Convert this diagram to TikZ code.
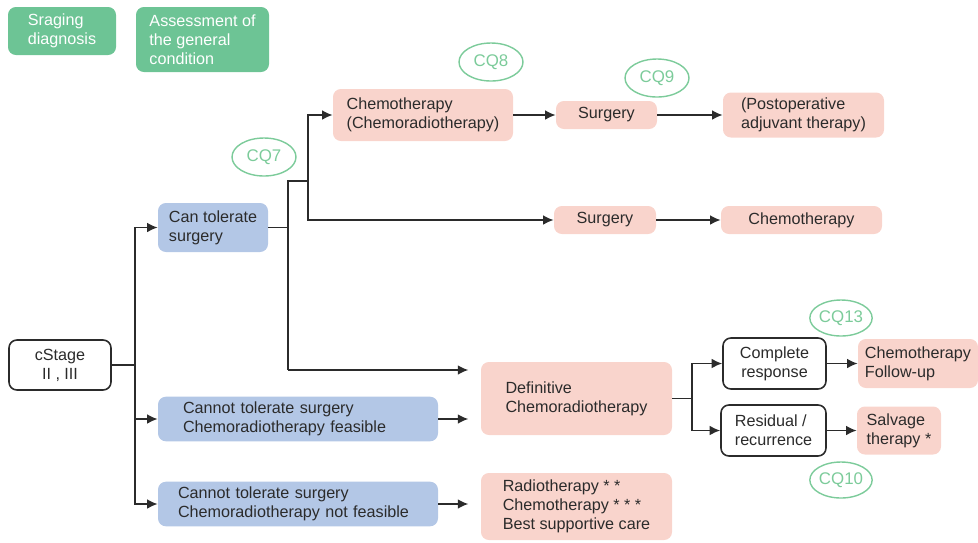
\documentclass[tikz,border=0pt]{standalone}
\usepackage{fontspec}
\setmainfont{Liberation Sans}
\usetikzlibrary{arrows.meta,positioning,shapes.geometric,calc}
\definecolor{CQGreen}{HTML}{7CCB9A}
\definecolor{BoxGreen}{HTML}{6DC495}
\definecolor{BoxPink}{HTML}{F9D4CC}
\definecolor{BoxBlue}{HTML}{B3C7E6}
\definecolor{LineDark}{HTML}{2B2B2B}

\begin{document}
\begin{tikzpicture}[
  box/.style={rectangle,rounded corners=4.5pt,align=left,inner sep=3pt,
              font=\fontsize{9.2}{10.8}\selectfont,text=LineDark},
  greenbox/.style={box,fill=BoxGreen,text=white},
  pinkbox/.style={box,fill=BoxPink},
  bluebox/.style={box,fill=BoxBlue},
  outbox/.style={box,draw=LineDark,line width=0.9pt,fill=white},
  cq/.style={ellipse,draw=CQGreen,line width=0.8pt,text=CQGreen,
             minimum width=1.28cm,minimum height=0.76cm,inner sep=0pt,
             font=\fontsize{9.6}{11}\selectfont},
  arrow/.style={-{Latex[length=6pt,width=5.5pt]},LineDark,line width=0.85pt},
  link/.style={LineDark,line width=0.85pt}
]
  \useasboundingbox (0,0) rectangle (19.56,-10.84);

  % header boxes
  \node[greenbox,minimum width=2.16cm,minimum height=0.96cm] (stag) at (1.24,-0.62) {
    Sraging\\diagnosis
  };
  \node[greenbox,minimum width=2.66cm,minimum height=1.30cm] (assess) at (4.05,-0.79) {
    Assessment of\\the general\\condition
  };

  % left column
  \node[outbox,align=center,minimum width=2.04cm,minimum height=1.0cm] (cstage) at (1.20,-7.30) {
    cStage\\II , III
  };
  \node[bluebox,minimum width=2.2cm,minimum height=0.98cm] (tol) at (4.26,-4.55) {
    Can tolerate\\surgery
  };
  \node[bluebox,text width=4.6cm,inner xsep=0.5cm,minimum height=0.88cm] (feas) at (5.96,-8.38) {
    Cannot tolerate surgery\\Chemoradiotherapy feasible
  };
  \node[bluebox,text width=4.8cm,inner xsep=0.4cm,minimum height=0.88cm] (nofeas) at (5.96,-10.08) {
    Cannot tolerate surgery\\Chemoradiotherapy not feasible
  };

  % surgery branch
  \node[pinkbox,minimum width=3.6cm,minimum height=1.04cm] (chemoA) at (8.46,-2.30) {
    Chemotherapy\\(Chemoradiotherapy)
  };
  \node[pinkbox,minimum width=2.02cm,minimum height=0.56cm] (surgA) at (12.13,-2.30) {Surgery};
  \node[pinkbox,minimum width=3.22cm,minimum height=0.90cm] (postop) at (16.07,-2.30) {
    (Postoperative\\adjuvant therapy)
  };
  \node[pinkbox,minimum width=2.04cm,minimum height=0.56cm] (surgB) at (12.10,-4.40) {Surgery};
  \node[pinkbox,minimum width=3.22cm,minimum height=0.56cm] (chemoB) at (16.03,-4.40) {Chemotherapy};

  % chemoradiotherapy branch
  \node[pinkbox,minimum width=3.82cm,minimum height=1.46cm] (defin) at (11.53,-7.97) {
    Definitive\\Chemoradiotherapy
  };
  \node[pinkbox,minimum width=3.82cm,minimum height=1.34cm] (radio) at (11.53,-10.13) {
    Radiotherapy * *\\Chemotherapy * * *\\Best supportive care
  };
  \node[outbox,align=center,minimum width=2.06cm,minimum height=1.02cm] (compl) at (15.49,-7.27) {
    Complete\\response
  };
  \node[outbox,minimum width=2.10cm,minimum height=1.02cm] (resid) at (15.47,-8.61) {
    Residual /\\recurrence
  };
  \node[pinkbox,minimum width=2.4cm,minimum height=0.98cm] (follow) at (18.36,-7.27) {
    Chemotherapy\\Follow-up
  };
  \node[pinkbox,minimum width=1.68cm,minimum height=0.96cm] (salv) at (17.98,-8.61) {
    Salvage\\therapy *
  };

  % clinical questions
  \node[cq] (cq7) at (5.28,-3.14) {CQ7};
  \node[cq] (cq8) at (9.82,-1.24) {CQ8};
  \node[cq] (cq9) at (13.14,-1.56) {CQ9};
  \node[cq,minimum width=1.24cm,minimum height=0.72cm] (cq13) at (16.82,-6.36) {CQ13};
  \node[cq,minimum width=1.24cm,minimum height=0.72cm] (cq10) at (16.82,-9.60) {CQ10};

  % junctions
  \coordinate (jstage) at (2.70,-7.30);
  \coordinate (jtol) at (5.76,-4.55);
  \coordinate (jtop) at (6.16,-3.62);
  \coordinate (jlow) at (5.76,-7.40);
  \coordinate (jdef) at (13.84,-7.97);

  \draw[link] (cstage.east) -- (jstage);
  \draw[arrow] (jstage) |- (tol.west);
  \draw[arrow] (jstage) |- (feas.west);
  \draw[arrow] (jstage) |- (nofeas.west);

  \draw[link] (tol.east) -- (jtol);
  \draw[link] (jtol) |- (jtop);
  \draw[link] (jtol) -- (jlow);
  \draw[arrow] (jtop) |- (chemoA.west);
  \draw[arrow] (jtop) |- (surgB.west);
  \draw[arrow,shorten >=7pt] (jlow) -- (jlow -| defin.west);
  \draw[arrow,shorten >=7pt] (feas.east) -- (feas.east -| defin.west);
  \draw[arrow,shorten >=7pt] (nofeas.east) -- (nofeas.east -| radio.west);

  \draw[arrow] (chemoA.east) -- (surgA.west);
  \draw[arrow] (surgA.east) -- (postop.west);
  \draw[arrow] (surgB.east) -- (chemoB.west);

  \draw[link] (defin.east) -- (jdef);
  \draw[arrow] (jdef) |- (compl.west);
  \draw[arrow] (jdef) |- (resid.west);
  \draw[arrow] (compl.east) -- (follow.west);
  \draw[arrow] (resid.east) -- (salv.west);
\end{tikzpicture}
\end{document}
